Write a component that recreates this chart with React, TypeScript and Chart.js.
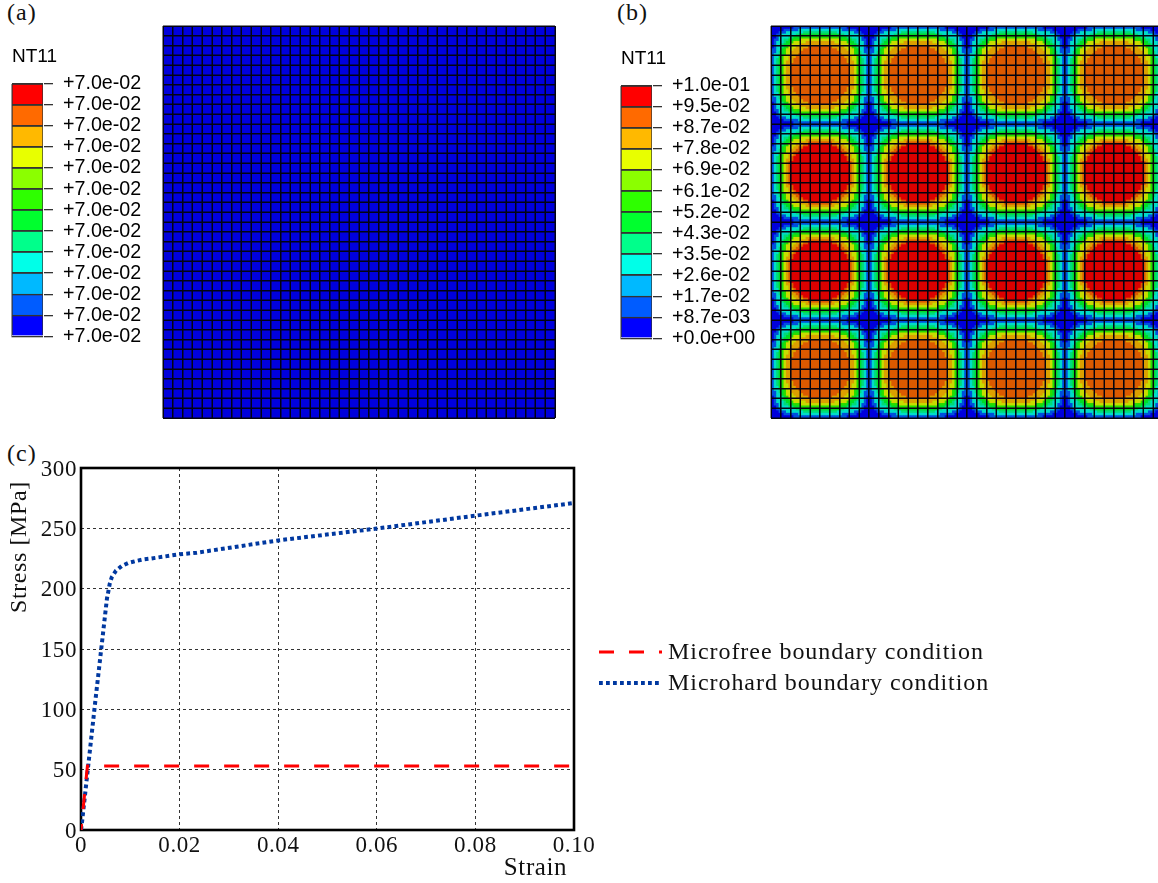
import React, { useEffect, useRef } from "react";
import { Chart, registerables } from "chart.js";

Chart.register(...registerables);

const FRAME_W = 1158;
const FRAME_H = 883;
const SERIF = "'Liberation Serif', serif";
const SANS = "'Liberation Sans', sans-serif";

// Contour legends
const bandColors = ["#0000ff", "#005cff", "#00b9ff", "#00ffe8", "#00ff8b", "#00ff2e", "#2eff00", "#8bff00", "#e8ff00", "#ffb900", "#ff6a00", "#ff0000"];
const meshBandColors = ["#0000dc", "#0050dc", "#00a0dc", "#00dcc8", "#00dc78", "#00dc28", "#28dc00", "#78dc00", "#c8dc00", "#dca000", "#dc5a00", "#dc0000"];
const legendLabelsA = ["+7.0e-02", "+7.0e-02", "+7.0e-02", "+7.0e-02", "+7.0e-02", "+7.0e-02", "+7.0e-02", "+7.0e-02", "+7.0e-02", "+7.0e-02", "+7.0e-02", "+7.0e-02", "+7.0e-02"];
const legendLabelsB = ["+0.0e+00", "+8.7e-03", "+1.7e-02", "+2.6e-02", "+3.5e-02", "+4.3e-02", "+5.2e-02", "+6.1e-02", "+6.9e-02", "+7.8e-02", "+8.7e-02", "+9.5e-02", "+1.0e-01"];

// Contour band of one quadrant of a repeating patch in panel (b),
// from the patch corner (row 0, col 0) to the patch centre; four samples per mesh cell.
const patchQuadrant = [
  [0, 0, 0, 0, 0, 0, 0, 0, 0, 1, 1, 1, 1, 1, 1, 1, 1, 1, 1, 1],
  [0, 0, 0, 0, 0, 1, 1, 1, 1, 1, 1, 3, 3, 3, 3, 3, 3, 3, 3, 3],
  [0, 0, 0, 1, 1, 1, 3, 3, 3, 3, 3, 3, 3, 4, 4, 4, 4, 4, 4, 4],
  [0, 0, 1, 1, 3, 3, 3, 3, 3, 3, 4, 4, 5, 5, 5, 5, 5, 5, 5, 5],
  [0, 0, 1, 3, 3, 3, 3, 4, 4, 5, 5, 5, 6, 6, 6, 6, 6, 6, 6, 6],
  [0, 1, 1, 3, 3, 4, 4, 5, 5, 6, 6, 6, 8, 8, 8, 8, 8, 8, 8, 8],
  [0, 1, 3, 3, 3, 4, 5, 5, 6, 8, 8, 8, 8, 8, 9, 9, 9, 9, 9, 9],
  [0, 1, 3, 3, 4, 5, 5, 6, 8, 8, 8, 8, 9, 9, 9, 10, 10, 10, 10, 10],
  [0, 1, 3, 3, 4, 5, 6, 8, 8, 8, 9, 9, 9, 10, 10, 11, 11, 11, 11, 11],
  [1, 1, 3, 3, 5, 6, 8, 8, 8, 9, 9, 10, 10, 11, 11, 11, 11, 11, 11, 11],
  [1, 1, 3, 4, 5, 6, 8, 8, 9, 9, 10, 10, 11, 11, 11, 11, 11, 11, 11, 11],
  [1, 3, 3, 4, 5, 6, 8, 8, 9, 10, 10, 11, 11, 11, 11, 11, 11, 11, 11, 11],
  [1, 3, 3, 5, 6, 8, 8, 9, 9, 10, 11, 11, 11, 11, 11, 11, 11, 11, 11, 11],
  [1, 3, 4, 5, 6, 8, 8, 9, 10, 11, 11, 11, 11, 11, 11, 11, 11, 11, 11, 11],
  [1, 3, 4, 5, 6, 8, 9, 9, 10, 11, 11, 11, 11, 11, 11, 11, 11, 11, 11, 11],
  [1, 3, 4, 5, 6, 8, 9, 10, 11, 11, 11, 11, 11, 11, 11, 11, 11, 11, 11, 11],
  [1, 3, 4, 5, 6, 8, 9, 10, 11, 11, 11, 11, 11, 11, 11, 11, 11, 11, 11, 11],
  [1, 3, 4, 5, 6, 8, 9, 10, 11, 11, 11, 11, 11, 11, 11, 11, 11, 11, 11, 11],
  [1, 3, 4, 5, 6, 8, 9, 10, 11, 11, 11, 11, 11, 11, 11, 11, 11, 11, 11, 11],
  [1, 3, 4, 5, 6, 8, 9, 10, 11, 11, 11, 11, 11, 11, 11, 11, 11, 11, 11, 11],
];
// Patches in the outer rows peak one band lower than those in the inner rows
const outerRowBands = [0, 1, 2, 3, 4, 5, 6, 7, 8, 9, 9, 10];
const patchRowIsOuter = [true, false, false, true];
const patchColumns = [0, 1, 2, 3];

// Panel (c)
const microfreeStrain = [0, 0.0013, 0.1];
const microfreeStress = [0, 53, 53];
const microhardStrain = [0, 0.00014, 0.00284, 0.00527, 0.00554, 0.00582, 0.00623, 0.0071, 0.00826, 0.0096, 0.01116, 0.0127, 0.0142, 0.02, 0.0235, 0.04, 0.06, 0.08, 0.1];
const microhardStress = [0, 4, 104.4, 192, 197.5, 203.9, 209.4, 214.9, 218.8, 221.3, 222.9, 224.3, 225, 228.5, 229.8, 240, 249.8, 260.5, 271];
const seriesNames = ["Microfree boundary condition", "Microhard boundary condition"];

const meshCount = 40;

function legendConfig(labels: string[]): any {
  return {
    type: "bar",
    data: {
      labels: [""],
      datasets: bandColors.map((c) => ({
        data: [1],
        backgroundColor: c,
        borderColor: "#333",
        borderWidth: 1,
        barPercentage: 1,
        categoryPercentage: 1,
      })),
    },
    options: {
      responsive: false,
      animation: false,
      events: [],
      layout: { autoPadding: false, padding: { left: 1, right: 0, top: 0, bottom: 2 } },
      plugins: {
        legend: { display: false },
        tooltip: { enabled: false },
        title: {
          display: true,
          text: "NT11",
          align: "start",
          color: "#000",
          font: { family: SANS, size: 19, weight: "normal", lineHeight: "24px" },
          padding: { top: 1, bottom: 15, left: 0 },
        },
      },
      scales: {
        x: { stacked: true, display: false },
        y: {
          stacked: true,
          position: "right",
          min: 0,
          max: 12,
          afterFit: (s: any) => { s.width = 120; },
          border: { display: true, color: "#333", width: 1 },
          grid: { color: "#333", lineWidth: 1.3, tickLength: 10, z: 1, drawTicks: true },
          ticks: {
            stepSize: 1,
            autoSkip: false,
            padding: 10,
            color: "#000",
            font: { family: SANS, size: 19.7 },
            callback: (v: any) => labels[Number(v)],
          },
        },
      },
    },
  };
}

function meshOptions(xMax: number): any {
  const axis = (max: number, reverse: boolean) => ({
    type: "linear",
    min: 0,
    max,
    reverse,
    afterFit: (s: any) => {
      if (s.isHorizontal()) s.height = 0;
      else s.width = 0;
    },
    border: { display: false },
    grid: { color: "#030310", lineWidth: 1.5, z: 1, drawTicks: false },
    ticks: { display: false, stepSize: 1, autoSkip: false, includeBounds: false },
  });
  return {
    responsive: false,
    animation: false,
    events: [],
    devicePixelRatio: 2,
    layout: { autoPadding: false, padding: 2 },
    plugins: { legend: { display: false }, tooltip: { enabled: false } },
    scales: { x: axis(xMax, false), y: axis(meshCount, true) },
  };
}

function meshConfigA(): any {
  const points: { x: number; y: number }[] = [];
  for (let r = 0; r < meshCount; r++) {
    for (let c = 0; c < meshCount; c++) points.push({ x: c + 0.5, y: r + 0.5 });
  }
  return {
    type: "scatter",
    data: {
      datasets: [{ data: points, pointStyle: "rect", pointRadius: 7.3, pointBorderWidth: 0, backgroundColor: meshBandColors[0], borderWidth: 0 }],
    },
    options: meshOptions(meshCount),
  };
}

function meshConfigB(): any {
  const byBand: { x: number; y: number }[][] = meshBandColors.map(() => []);
  patchRowIsOuter.forEach((outer, pr) => {
    patchColumns.forEach((pc) => {
      for (let r = 0; r < 40; r++) {
        for (let c = 0; c < 40; c++) {
          const base = patchQuadrant[r < 20 ? r : 39 - r][c < 20 ? c : 39 - c];
          const band = outer ? outerRowBands[base] : base;
          byBand[band].push({ x: pc * 10 + (c + 0.5) / 4, y: pr * 10 + (r + 0.5) / 4 });
        }
      }
    });
  });
  return {
    type: "scatter",
    data: {
      datasets: byBand.map((pts, i) => ({
        data: pts,
        pointStyle: "rect",
        pointRadius: 2.1,
        pointBorderWidth: 0,
        backgroundColor: meshBandColors[i],
        borderWidth: 0,
      })),
    },
    options: meshOptions(39.5),
  };
}

const curveExtras = {
  id: "curveExtras",
  beforeDraw(chart: any) {
    chart.ctx.letterSpacing = "0.6px";
  },
  beforeDatasetsDraw(chart: any) {
    const { ctx, chartArea: a } = chart;
    ctx.save();
    ctx.strokeStyle = "#000";
    ctx.lineWidth = 2.6;
    ctx.strokeRect(a.left, a.top, a.right - a.left, a.bottom - a.top);
    ctx.restore();
  },
  afterDraw(chart: any) {
    const { ctx, chartArea: a } = chart;
    const rows = [212, 243];
    ctx.save();
    chart.data.datasets.forEach((ds: any, i: number) => {
      ctx.beginPath();
      ctx.strokeStyle = ds.borderColor;
      ctx.lineWidth = ds.borderWidth;
      ctx.setLineDash(ds.borderDash);
      ctx.moveTo(a.right + 25, rows[i]);
      ctx.lineTo(a.right + 88, rows[i]);
      ctx.stroke();
      ctx.setLineDash([]);
      ctx.fillStyle = "#111";
      ctx.font = `24px ${SERIF}`;
      ctx.letterSpacing = "0.95px";
      ctx.textAlign = "left";
      ctx.textBaseline = "middle";
      ctx.fillText(ds.label, a.right + 94, rows[i] + 1);
    });
    ctx.restore();
  },
};

function curveConfig(): any {
  return {
    type: "scatter",
    data: {
      datasets: [
        {
          label: seriesNames[0],
          data: microfreeStrain.map((x, i) => ({ x, y: microfreeStress[i] })),
          showLine: true,
          pointRadius: 0,
          borderColor: "#ff0000",
          borderWidth: 3,
          borderDash: [15, 15],
          borderDashOffset: 9,
          tension: 0,
        },
        {
          label: seriesNames[1],
          data: microhardStrain.map((x, i) => ({ x, y: microhardStress[i] })),
          showLine: true,
          pointRadius: 0,
          borderColor: "#0038a0",
          borderWidth: 4,
          borderDash: [3.8, 3.2],
          tension: 0,
        },
      ],
    },
    options: {
      responsive: false,
      animation: false,
      events: [],
      layout: { autoPadding: false, padding: { left: 0, top: 28, right: 436, bottom: 0 } },
      plugins: { legend: { display: false }, tooltip: { enabled: false } },
      scales: {
        x: {
          type: "linear",
          min: 0,
          max: 0.1,
          afterFit: (s: any) => { s.height = 53; },
          border: { display: false, dash: [3, 3] },
          grid: { color: "#333", lineWidth: 1, drawTicks: false },
          ticks: {
            stepSize: 0.02,
            padding: 2,
            maxRotation: 0,
            color: "#111",
            font: { family: SERIF, size: 23 },
            callback: (v: any) => (Number(v) === 0 ? "0" : Number(v).toFixed(2)),
          },
          title: {
            display: true,
            text: "Strain ",
            align: "end",
            color: "#111",
            font: { family: SERIF, size: 25 },
            padding: { top: 0, bottom: 0 },
          },
        },
        y: {
          type: "linear",
          min: 0,
          max: 300,
          afterFit: (s: any) => { s.width = 81; },
          border: { display: false, dash: [3, 3] },
          grid: { color: "#333", lineWidth: 1, drawTicks: false },
          ticks: { stepSize: 50, padding: 4, labelOffset: 1.5, color: "#111", font: { family: SERIF, size: 23 } },
          title: {
            display: true,
            text: "Stress [MPa]  ",
            align: "end",
            color: "#111",
            font: { family: SERIF, size: 24 },
            padding: { top: 5, bottom: 0 },
          },
        },
      },
    },
  };
}

function Panel({ left, top, width, height, make, plugins, blur }: any) {
  const ref = useRef<HTMLCanvasElement | null>(null);
  useEffect(() => {
    const chart = new Chart(ref.current as HTMLCanvasElement, { ...make(), plugins: plugins || [] });
    return () => chart.destroy();
  }, []);
  return (
    <canvas
      ref={ref}
      width={width}
      height={height}
      style={{ position: "absolute", left, top, width, height, filter: `blur(${blur}px)` }}
    />
  );
}

function PanelLabel({ left, top, text }: { left: number; top: number; text: string }) {
  return (
    <span style={{ position: "absolute", left, top, font: `24px/28px ${SERIF}`, letterSpacing: "1px", color: "#111" }}>{text}</span>
  );
}

export default function App() {
  return (
    <div style={{ position: "absolute", left: 0, top: 0, width: FRAME_W, height: FRAME_H, overflow: "hidden", background: "#fff" }}>
      <PanelLabel left={7} top={-2} text="(a)" />
      <PanelLabel left={617} top={-2} text="(b)" />
      <PanelLabel left={7} top={439} text="(c)" />
      <Panel left={11} top={44} width={152} height={314} blur={0.45} make={() => legendConfig(legendLabelsA)} />
      <Panel left={620} top={46} width={152} height={314} blur={0.45} make={() => legendConfig(legendLabelsB)} />
      <Panel left={161} top={24} width={396} height={396} blur={0.6} make={meshConfigA} />
      <Panel left={769} top={24} width={391} height={396} blur={0.6} make={meshConfigB} />
      <Panel left={0} top={440} width={1010} height={443} blur={0.35} make={curveConfig} plugins={[curveExtras]} />
    </div>
  );
}
